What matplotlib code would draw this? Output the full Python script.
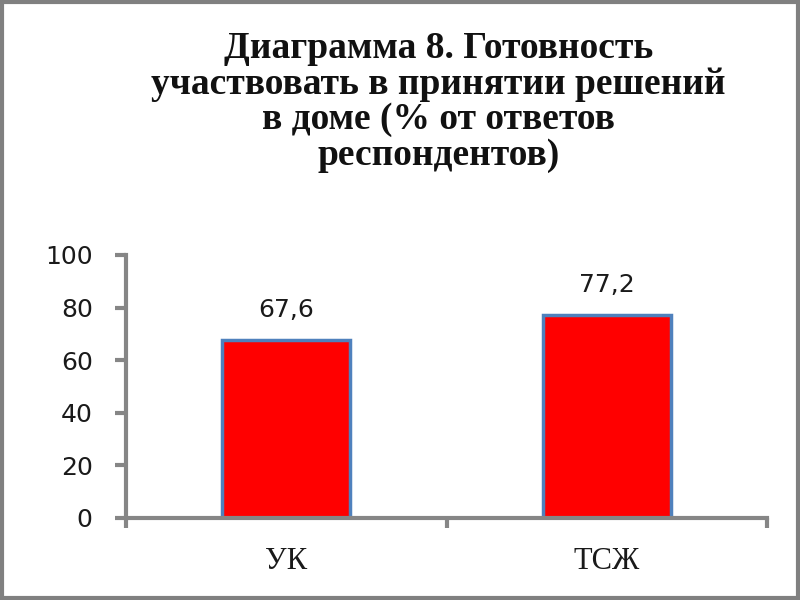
import matplotlib.pyplot as plt
from matplotlib.patches import Rectangle

categories = ['УК', 'ТСЖ']
values = [67.6, 77.2]
value_labels = ['67,6', '77,2']
yticks = [0, 20, 40, 60, 80, 100]
title = 'Диаграмма 8. Готовность\nучаствовать в принятии решений\nв доме (% от ответов\nреспондентов)'

axis_color = '#868686'

fig = plt.figure(figsize=(8, 6), dpi=100)
ax = fig.add_axes([0.1575, 0.1367, 0.8015, 0.4383])

x = range(len(categories))
ax.bar(x, values, width=0.4, color='#ff0000', edgecolor='#4f81bd', linewidth=2.5)

for xi, v, lab in zip(x, values, value_labels):
    ax.annotate(lab, (xi, v), xytext=(0, 13), textcoords='offset points',
                ha='center', va='bottom', fontsize=18, family='DejaVu Sans', color='#1a1a1a')

ax.set_xlim(-0.5, len(categories) - 0.5)
ax.set_ylim(0, 100)
ax.set_yticks(yticks)
ax.set_yticklabels([str(t) for t in yticks], fontsize=18, family='DejaVu Sans', color='#1a1a1a')

# category labels centred under the bars, ticks on the category borders
ax.set_xticks([-0.5, 0.5, 1.5])
ax.set_xticklabels([])
ax.set_xticks(list(x), minor=True)
ax.set_xticklabels(categories, minor=True, fontsize=22, family='Liberation Serif', color='#1a1a1a')
ax.tick_params(axis='x', which='minor', length=0, pad=21)
ax.tick_params(axis='x', which='major', length=7, width=3, color=axis_color, direction='out')
ax.tick_params(axis='y', length=8, width=3, color=axis_color, direction='out', pad=16)

for s in ['top', 'right']:
    ax.spines[s].set_visible(False)
for s in ['left', 'bottom']:
    ax.spines[s].set_color(axis_color)
    ax.spines[s].set_linewidth(3)

fig.text(0.548, 0.83, title, ha='center', va='center', fontsize=27, fontweight='bold',
         family='Liberation Serif', linespacing=1.02, color='#111111')

fig.patches.append(Rectangle((0.002, 0.003), 0.996, 0.994, transform=fig.transFigure,
                             fill=False, edgecolor='#808080', linewidth=3))

fig.savefig('out.png', dpi=100)
